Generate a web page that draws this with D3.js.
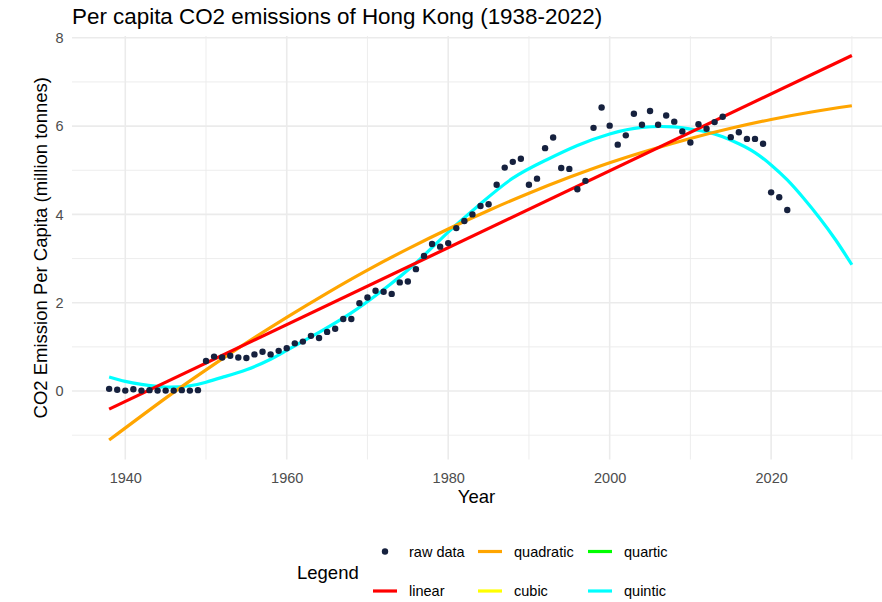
<!DOCTYPE html>
<html>
<head>
<meta charset="utf-8">
<script src="https://cdn.jsdelivr.net/npm/d3@7"></script>
<style>
  html, body { margin: 0; padding: 0; background: #ffffff; }
  svg { display: block; font-family: "Liberation Sans", Arial, sans-serif; }
</style>
</head>
<body>
<svg id="chart" width="882" height="602"></svg>
<script>
// Annual per capita CO2 emissions, Hong Kong
const years = [
  1938, 1939, 1940, 1941, 1942, 1943, 1944, 1945, 1946, 1947,
  1948, 1949, 1950, 1951, 1952, 1953, 1954, 1955, 1956, 1957,
  1958, 1959, 1960, 1961, 1962, 1963, 1964, 1965, 1966, 1967,
  1968, 1969, 1970, 1971, 1972, 1973, 1974, 1975, 1976, 1977,
  1978, 1979, 1980, 1981, 1982, 1983, 1984, 1985, 1986, 1987,
  1988, 1989, 1990, 1991, 1992, 1993, 1994, 1995, 1996, 1997,
  1998, 1999, 2000, 2001, 2002, 2003, 2004, 2005, 2006, 2007,
  2008, 2009, 2010, 2011, 2012, 2013, 2014, 2015, 2016, 2017,
  2018, 2019, 2020, 2021, 2022
];
const emissions = [
  0.05, 0.03, 0.01, 0.04, 0.01, 0.02, 0.01, 0.01, 0.01, 0.02,
  0.01, 0.02, 0.68, 0.78, 0.76, 0.80, 0.76, 0.75, 0.83, 0.89,
  0.83, 0.91, 0.97, 1.08, 1.12, 1.25, 1.20, 1.34, 1.41, 1.63,
  1.63, 1.99, 2.12, 2.27, 2.25, 2.20, 2.46, 2.48, 2.76, 3.06,
  3.33, 3.27, 3.35, 3.69, 3.85, 4.00, 4.19, 4.23, 4.67, 5.06,
  5.19, 5.26, 4.67, 4.81, 5.50, 5.74, 5.05, 5.03, 4.57, 4.76,
  5.96, 6.42, 6.01, 5.58, 5.79, 6.28, 6.03, 6.34, 6.03, 6.24,
  6.10, 5.88, 5.63, 6.04, 5.94, 6.09, 6.21, 5.75, 5.86, 5.71,
  5.71, 5.60, 4.50, 4.39, 4.10
];

// Fitted trend curves, evaluated out to 2030
const linearYears = [1938, 2030];
const linearFit = [-0.41, 7.60];

const quadraticYears = [1938, 1945, 1950, 1955, 1960, 1965, 1970, 1975, 1980, 1985,
                        1990, 1995, 2000, 2005, 2010, 2015, 2020, 2025, 2030];
const quadraticFit = [-1.11, -0.16, 0.48, 1.09, 1.67, 2.22, 2.74, 3.22, 3.67, 4.09,
                      4.48, 4.84, 5.17, 5.46, 5.72, 5.95, 6.15, 6.32, 6.46];

const quinticYears = [1938, 1940, 1942, 1945, 1948, 1950, 1952, 1955, 1958, 1960,
                      1964, 1968, 1972, 1976, 1980, 1984, 1988, 1992, 1996, 2000,
                      2004, 2008, 2010, 2012, 2014, 2016, 2018, 2020, 2022, 2024,
                      2026, 2028, 2030];
const quinticFit = [0.32, 0.22, 0.15, 0.09, 0.12, 0.20, 0.31, 0.48, 0.72, 0.92,
                    1.33, 1.77, 2.30, 2.90, 3.60, 4.24, 4.82, 5.22, 5.56, 5.82,
                    5.97, 5.98, 5.93, 5.87, 5.76, 5.60, 5.40, 5.12, 4.78, 4.37,
                    3.92, 3.42, 2.86];

const xMajor = [1940, 1960, 1980, 2000, 2020];
const xMinor = [1950, 1970, 1990, 2010, 2030];
const yMajor = [0, 2, 4, 6, 8];
const yMinor = [-1, 1, 3, 5, 7];

const legendItems = [
  { label: "raw data",  kind: "point", color: "#16213e" },
  { label: "linear",    kind: "line",  color: "#ff0000" },
  { label: "quadratic", kind: "line",  color: "#ffa500" },
  { label: "cubic",     kind: "line",  color: "#ffff00" },
  { label: "quartic",   kind: "line",  color: "#00ff00" },
  { label: "quintic",   kind: "line",  color: "#00ffff" }
];

const svg = d3.select("#chart");
const panel = { left: 72, right: 889, top: 36, bottom: 459.5 };

const x = d3.scaleLinear().domain([1933.4, 2034.6]).range([panel.left, panel.right]);
const y = d3.scaleLinear().domain([-1.55, 8.04]).range([panel.bottom, panel.top]);

svg.append("rect").attr("width", 882).attr("height", 602).attr("fill", "#ffffff");

// grid
const grid = svg.append("g");
grid.selectAll(".ymin").data(yMinor).join("line")
  .attr("x1", panel.left).attr("x2", panel.right)
  .attr("y1", d => y(d)).attr("y2", d => y(d))
  .attr("stroke", "#ebebeb").attr("stroke-width", 0.9);
grid.selectAll(".xmin").data(xMinor).join("line")
  .attr("y1", panel.top).attr("y2", panel.bottom)
  .attr("x1", d => x(d)).attr("x2", d => x(d))
  .attr("stroke", "#ebebeb").attr("stroke-width", 0.9);
grid.selectAll(".ymaj").data(yMajor).join("line")
  .attr("x1", panel.left).attr("x2", panel.right)
  .attr("y1", d => y(d)).attr("y2", d => y(d))
  .attr("stroke", "#ebebeb").attr("stroke-width", 1.6);
grid.selectAll(".xmaj").data(xMajor).join("line")
  .attr("y1", panel.top).attr("y2", panel.bottom)
  .attr("x1", d => x(d)).attr("x2", d => x(d))
  .attr("stroke", "#ebebeb").attr("stroke-width", 1.6);

// axes (labels only, no domain lines or ticks)
const xAxis = svg.append("g")
  .attr("transform", `translate(0,${panel.bottom})`)
  .call(d3.axisBottom(x).tickValues(xMajor).tickFormat(d3.format("d")).tickSize(0).tickPadding(13));
const yAxis = svg.append("g")
  .attr("transform", `translate(${panel.left},0)`)
  .call(d3.axisLeft(y).tickValues(yMajor).tickFormat(d3.format("d")).tickSize(0).tickPadding(8.5));
[xAxis, yAxis].forEach(a => {
  a.select(".domain").remove();
  a.selectAll("text")
    .attr("fill", "#4d4d4d")
    .style("font-size", "14.5px")
    .style("font-family", "\"Liberation Sans\", Arial, sans-serif");
});

// fitted curves
const line = d3.line().x(d => x(d[0])).y(d => y(d[1])).curve(d3.curveNatural);
const curves = [
  { xs: quinticYears, ys: quinticFit, color: "#00ffff" },
  { xs: quadraticYears, ys: quadraticFit, color: "#ffa500" },
  { xs: linearYears, ys: linearFit, color: "#ff0000" }
];
svg.append("g").selectAll("path").data(curves).join("path")
  .attr("d", c => line(d3.zip(c.xs, c.ys)))
  .attr("fill", "none")
  .attr("stroke", c => c.color)
  .attr("stroke-width", 3.2)
  .attr("stroke-linecap", "butt");

// raw observations
svg.append("g").selectAll("circle").data(d3.zip(years, emissions)).join("circle")
  .attr("cx", d => x(d[0]))
  .attr("cy", d => y(d[1]))
  .attr("r", 3.2)
  .attr("fill", "#16213e");

// titles
svg.append("text")
  .attr("x", panel.left).attr("y", 24)
  .style("font-size", "22.4px").attr("fill", "#000")
  .text("Per capita CO2 emissions of Hong Kong (1938-2022)");
svg.append("text")
  .attr("x", (panel.left + panel.right) / 2 - 4).attr("y", 503)
  .attr("text-anchor", "middle")
  .style("font-size", "18.5px").attr("fill", "#000")
  .text("Year");
svg.append("text")
  .attr("transform", `translate(47,${(panel.top + panel.bottom) / 2}) rotate(-90)`)
  .attr("text-anchor", "middle")
  .style("font-size", "18.5px").attr("fill", "#000")
  .text("CO2 Emission Per Capita (million tonnes)");

// legend: 2 rows, filled column by column
const legend = svg.append("g");
legend.append("text")
  .attr("x", 297).attr("y", 572.5)
  .attr("dominant-baseline", "central")
  .style("font-size", "18.5px").attr("fill", "#000")
  .text("Legend");
const colX = [373, 478, 588];
const rowY = [551.5, 591];
const keys = legend.selectAll(".key").data(legendItems).join("g")
  .attr("transform", (d, i) => `translate(${colX[Math.floor(i / 2)]},${rowY[i % 2]})`);
keys.filter(d => d.kind === "line").append("line")
  .attr("x1", 0).attr("x2", 24).attr("y1", 0).attr("y2", 0)
  .attr("stroke", d => d.color).attr("stroke-width", 3.2);
keys.filter(d => d.kind === "point").append("circle")
  .attr("cx", 12).attr("cy", 0).attr("r", 3.2).attr("fill", d => d.color);
keys.append("text")
  .attr("x", 36).attr("y", 0)
  .attr("dominant-baseline", "central")
  .style("font-size", "14.5px").attr("fill", "#000")
  .text(d => d.label);
</script>
</body>
</html>
